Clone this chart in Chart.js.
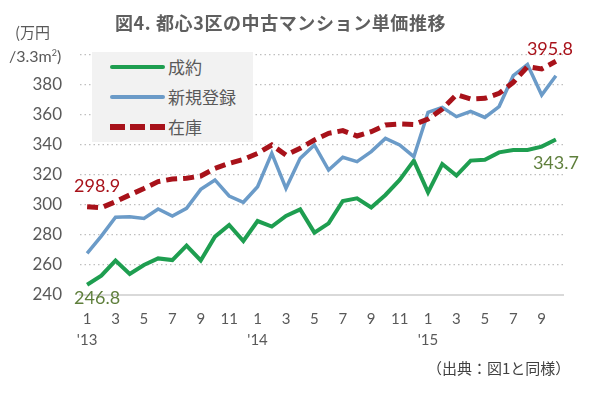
<!DOCTYPE html>
<html>
<head>
<meta charset="utf-8">
<script src="https://cdn.jsdelivr.net/npm/chart.js@4.4.1/dist/chart.umd.min.js"></script>
<style>
  html, body { margin: 0; padding: 0; background: #ffffff; }
  #wrap { position: relative; width: 592px; height: 395px; overflow: hidden; font-family: Lato, "Noto Sans CJK JP", sans-serif; }
  canvas { position: absolute; left: 0; top: 0; }
  .txt { position: absolute; white-space: nowrap; color: #595959; }
  #title { left: 115px; top: 9px; font-size: 18px; font-weight: bold; font-family: "Noto Sans CJK JP", sans-serif; letter-spacing: 0.6px; color: #5f5f5f; }
  #unit1 { left: 15px; top: 21px; font-size: 15px; font-family: "Noto Sans CJK JP", sans-serif; }
  #unit2 { left: 9px; top: 46px; font-size: 16px; font-family: Lato, "Noto Sans CJK JP", sans-serif; }
  #source { left: 427px; top: 357px; font-size: 15px; font-family: "Noto Sans CJK JP", sans-serif; color: #404040; }
  #legend { position: absolute; left: 92px; top: 52px; width: 161px; height: 90px; background: #f2f2f2; }
  .li { position: absolute; left: 18px; height: 20px; }
  .li .sw { position: absolute; left: 0; width: 55px; top: 10px; }
  .li .lb { position: absolute; left: 58px; top: -3px; font-size: 17px; color: #595959; font-family: "Noto Sans CJK JP", sans-serif; white-space: nowrap; }
</style>
</head>
<body>
<div id="wrap">
  <canvas id="c" width="592" height="395"></canvas>
  <div class="txt" id="title">図4. 都心3区の中古マンション単価推移</div>
  <div class="txt" id="unit1">(万円</div>
  <div class="txt" id="unit2">/3.3m<sup style="font-size:9px">2</sup>)</div>
  <div id="legend"></div>
  <div class="txt" id="source">（出典：図1と同様）</div>
</div>
<script>
// ---- data ----
const months = [1,2,3,4,5,6,7,8,9,10,11,12, 1,2,3,4,5,6,7,8,9,10,11,12, 1,2,3,4,5,6,7,8,9,10];
const yearTicks = ["'13","","","","","","","","","","","", "'14","","","","","","","","","","","", "'15","","","","","","","","",""];
const seriesNames = ["成約", "新規登録", "在庫"];
const contracted = [246.8,252.9,262.9,254.0,260.0,264.4,263.3,272.9,263.0,278.9,286.7,276.0,
                    289.3,285.6,292.7,297.1,281.6,287.8,302.7,304.4,298.4,306.7,316.7,329.6,
                    308.4,327.3,319.6,329.6,330.2,335.1,336.7,336.7,338.9,343.7];
const newListings = [267.8,279.3,291.8,292.2,291.0,297.3,292.7,297.8,310.4,316.7,306.0,301.8,
                     312.2,334.4,311.1,331.1,340.0,323.3,331.8,328.9,335.6,344.4,340.0,332.2,
                     361.8,365.1,358.9,362.4,358.4,365.6,386.2,393.6,373.3,386.2];
const inventory = [298.9,298.2,302.2,306.7,311.0,315.6,317.3,317.8,319.3,324.4,327.8,330.4,
                   334.4,340.0,333.3,337.8,343.3,347.8,349.6,346.0,348.9,353.3,354.0,353.6,
                   357.3,364.0,373.6,370.7,371.1,374.4,381.8,392.2,390.7,395.8];
const yMin = 240, yMax = 400, yStep = 20;

// ---- styles ----
const colors = { "成約": "#1e9e50", "新規登録": "#6b9bc8", "在庫": "#a8121a" };
const labelColors = { "成約": "#5f7f3c", "在庫": "#a8121a" };

// legend (HTML)
const legendItems = [
  { name: seriesNames[0], h: 4, dash: false },
  { name: seriesNames[1], h: 4, dash: false },
  { name: seriesNames[2], h: 6, dash: true }
];
const legendEl = document.getElementById('legend');
legendItems.forEach((it, i) => {
  const d = document.createElement('div');
  d.className = 'li';
  d.style.top = (5 + i * 30) + 'px';
  const sw = document.createElement('div');
  sw.className = 'sw';
  sw.style.height = it.h + 'px';
  sw.style.marginTop = (-it.h / 2) + 'px';
  if (it.dash) {
    sw.style.background = 'repeating-linear-gradient(90deg,' + colors[it.name] + ' 0 15px, transparent 15px 20px)';
  } else {
    sw.style.background = colors[it.name];
    sw.style.borderRadius = '2px';
  }
  const lb = document.createElement('div');
  lb.className = 'lb';
  lb.textContent = it.name;
  d.appendChild(sw); d.appendChild(lb);
  legendEl.appendChild(d);
});

// value labels for selected points
const pointLabels = [
  { series: "在庫", index: 0, dx: 10, dy: -20 },
  { series: "成約", index: 0, dx: 10, dy: 13 },
  { series: "在庫", index: inventory.length - 1, dx: -6, dy: -12 },
  { series: "成約", index: contracted.length - 1, dx: 0, dy: 24 }
];

const labelPlugin = {
  id: 'pointLabels',
  afterDatasetsDraw(chart) {
    const ctx = chart.ctx;
    ctx.save();
    ctx.font = '18px Lato, "Noto Sans CJK JP", sans-serif';
    ctx.textAlign = 'center';
    ctx.textBaseline = 'middle';
    pointLabels.forEach(pl => {
      const dsIndex = chart.data.datasets.findIndex(d => d.label === pl.series);
      const meta = chart.getDatasetMeta(dsIndex);
      const el = meta.data[pl.index];
      const v = chart.data.datasets[dsIndex].data[pl.index];
      ctx.fillStyle = labelColors[pl.series];
      ctx.fillText(v.toFixed(1), el.x + pl.dx, el.y + pl.dy);
    });
    ctx.restore();
  }
};

new Chart(document.getElementById('c'), {
  type: 'line',
  data: {
    labels: months.map(String),
    datasets: [
      { label: seriesNames[2], data: inventory, borderColor: colors["在庫"], borderWidth: 5, borderDash: [11, 6], pointRadius: 0, tension: 0, fill: false },
      { label: seriesNames[1], data: newListings, borderColor: colors["新規登録"], borderWidth: 3.5, pointRadius: 0, tension: 0, fill: false },
      { label: seriesNames[0], data: contracted, borderColor: colors["成約"], borderWidth: 4, pointRadius: 0, tension: 0, fill: false }
    ]
  },
  options: {
    responsive: false,
    animation: false,
    events: [],
    layout: { padding: { left: 0, right: 29, top: 55, bottom: 0 } },
    plugins: { legend: { display: false }, title: { display: false }, tooltip: { enabled: false } },
    scales: {
      x: {
        offset: true,
        grid: { display: false, drawTicks: false },
        border: { display: true, color: '#d9d9d9', width: 2 },
        ticks: {
          autoSkip: false, maxRotation: 0, minRotation: 0, padding: 13,
          color: '#595959',
          font: { size: 15, family: 'Lato, "Noto Sans CJK JP", sans-serif', lineHeight: 1.45 },
          callback: (v, i) => {
            if (months[i] % 2 !== 1) return '';
            return yearTicks[i] ? [String(months[i]), yearTicks[i]] : String(months[i]);
          }
        },
        afterFit: (s) => { s.height = 100; }
      },
      y: {
        min: yMin, max: yMax,
        ticks: {
          stepSize: yStep, padding: 18, color: '#595959',
          font: { size: 17, family: 'Lato, "Noto Sans CJK JP", sans-serif' },
          callback: (v) => (v === yMax ? '' : String(v))
        },
        grid: {
          drawTicks: false,
          color: (c) => (c.tick && c.tick.value === yMin ? 'rgba(0,0,0,0)' : '#bfbfbf'),
          lineWidth: 1.3
        },
        border: { display: false, dash: [1.5, 3] },
        afterFit: (s) => { s.width = 80; }
      }
    }
  },
  plugins: [labelPlugin]
});
</script>
</body>
</html>
